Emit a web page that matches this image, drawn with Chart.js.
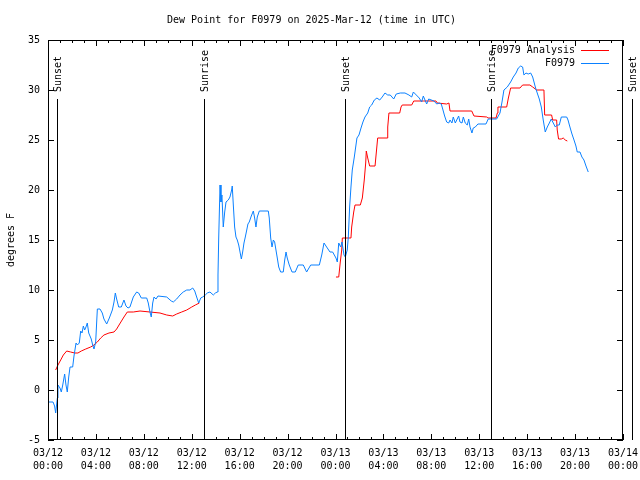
<!DOCTYPE html>
<html>
<head>
<meta charset="utf-8">
<script src="https://cdn.jsdelivr.net/npm/chart.js@4/dist/chart.umd.min.js"></script>
<style>
  html, body { margin: 0; padding: 0; background: #fff; }
  #wrap { width: 640px; height: 480px; }
</style>
</head>
<body>
<div id="wrap"><canvas id="dew_chart"></canvas></div>
<script>
// hours since 03/12 00:00 UTC and dew point (F)
var obsHours = [0.08,0.42,0.55,0.64,0.78,0.83,1.0,1.11,1.23,1.39,1.5,1.61,1.73,1.84,2.06,2.17,2.34,2.45,2.61,2.73,
  2.84,2.95,3.06,3.17,3.28,3.40,3.61,3.73,3.84,3.98,4.12,4.34,4.53,4.67,4.90,5.12,5.37,5.51,5.62,5.73,
  5.90,6.12,6.34,6.51,6.68,6.84,7.12,7.40,7.57,7.79,8.24,8.37,8.51,8.62,8.74,8.85,9.02,9.18,9.91,10.29,
  10.46,10.74,11.02,11.29,11.58,11.85,12.08,12.25,12.41,12.58,12.75,12.91,13.13,13.30,13.52,13.80,13.97,14.13,14.19,14.25,
  14.36,14.44,14.52,14.63,14.75,14.86,15.05,15.19,15.33,15.38,15.47,15.58,15.69,15.80,15.92,16.03,16.14,16.25,16.36,16.47,
  16.59,16.69,16.80,16.97,17.14,17.25,17.36,17.47,17.64,18.39,18.47,18.59,18.70,18.81,18.92,19.03,19.14,19.26,19.42,19.64,
  19.76,19.87,19.97,20.14,20.37,20.64,20.89,21.31,21.59,21.93,22.65,22.85,23.04,23.26,23.54,23.76,24.04,24.15,24.27,24.43,
  24.54,24.71,24.82,24.98,25.07,25.18,25.29,25.40,25.57,25.79,25.96,26.13,26.29,26.46,26.69,26.85,27.02,27.24,27.46,27.69,
  27.90,28.13,28.36,28.57,28.86,29.07,29.41,29.80,30.13,30.36,30.50,30.99,31.19,31.33,31.61,31.78,32.22,32.45,32.66,32.83,
  32.95,33.11,33.28,33.45,33.56,33.72,33.83,34.00,34.12,34.28,34.39,34.56,34.67,34.83,35.00,35.12,35.23,35.39,35.50,35.67,
  35.89,36.56,36.75,37.45,37.73,37.90,38.06,38.34,38.62,38.84,39.07,39.26,39.46,39.62,39.73,39.90,40.09,40.29,40.46,40.68,
  40.84,41.01,41.18,41.34,41.51,41.68,41.85,42.01,42.18,42.35,42.51,42.68,42.85,43.30,43.41,43.57,43.74,43.91,44.07,44.18,
  44.41,44.57,44.74,44.91,45.10];
var obsDew = [-1.2,-1.2,-1.6,-2.3,-0.8,0.5,0.2,-0.2,0.5,1.6,0.5,-0.2,1.3,2.3,2.3,3.4,4.7,4.5,4.7,5.9,
  5.7,6.4,6.0,6.3,6.7,5.7,5.1,4.5,4.1,4.8,8.1,8.1,7.7,7.1,6.6,7.2,8.0,8.8,9.7,9.1,
  8.3,8.3,9.0,8.4,8.2,8.3,9.3,9.8,9.7,9.2,9.2,8.7,7.8,7.3,8.7,9.3,9.1,9.4,9.3,8.9,
  8.8,9.1,9.5,9.8,10.0,10.0,10.2,9.9,9.3,8.7,9.2,9.3,9.5,9.7,9.8,9.5,9.7,9.8,11.5,15.2,
  20.5,18.8,19.5,16.3,17.8,18.8,19.0,19.3,20.0,20.4,18.5,16.3,15.3,15.0,14.5,13.8,13.1,13.8,14.7,15.3,
  16.0,16.6,16.8,17.4,17.9,17.2,16.3,17.3,17.9,17.9,17.2,15.2,14.3,15.0,14.8,14.0,13.2,12.3,11.8,11.8,
  13.0,13.8,13.2,12.5,11.8,11.8,12.5,12.5,11.8,12.5,12.5,13.5,14.7,14.3,13.8,13.8,13.2,12.8,14.7,14.3,
  14.8,13.5,13.3,14.0,15.3,18.3,20.3,22.0,23.3,25.2,25.5,26.2,26.8,27.3,27.7,28.3,28.5,29.0,29.2,29.0,
  29.3,29.7,29.5,29.5,29.1,29.6,29.7,29.7,29.5,29.3,29.8,29.2,28.8,29.4,28.6,29.1,28.9,28.6,28.7,28.6,
  28.1,27.4,26.8,26.7,27.0,26.7,27.3,26.7,27.0,27.4,26.8,26.7,27.3,26.7,26.5,27.1,26.3,25.7,26.2,26.3,
  26.6,26.6,27.1,27.1,27.7,28.8,30.0,30.3,30.8,31.3,31.7,32.2,32.4,32.3,31.5,31.7,31.6,31.7,31.3,30.3,
  29.7,29.1,28.3,27.0,25.8,26.3,26.7,27.1,26.7,26.3,26.5,26.5,27.3,27.3,27.0,26.3,25.6,25.0,24.4,23.8,
  23.8,23.3,23.0,22.4,21.8];

// analysis series, null = no analysis available
var anaHours = [0.64,0.83,1.06,1.28,1.56,1.89,2.23,2.50,2.78,3.15,3.56,3.84,4.12,4.40,4.67,5.09,5.51,5.73,5.93,6.34,
  6.62,7.12,7.68,8.51,9.35,9.91,10.41,10.74,11.16,11.58,12.00,12.30,12.63,13.0,
  24.04,24.27,24.40,24.52,24.57,25.29,25.35,25.52,25.63,26.07,26.24,26.40,26.52,26.57,26.69,26.85,27.30,27.41,27.52,28.30,
  28.36,28.46,29.36,29.47,29.57,30.36,30.53,31.33,32.39,32.50,33.28,33.47,33.56,35.37,35.56,36.62,36.73,37.40,37.51,37.56,
  38.29,38.43,38.62,39.40,39.62,40.23,40.46,40.79,41.40,41.46,42.04,42.13,42.46,42.51,42.62,42.85,43.01,43.18,43.35];
var anaDew = [2.0,2.5,3.0,3.5,3.9,3.8,3.7,3.7,3.9,4.1,4.3,4.5,4.8,5.2,5.5,5.7,5.8,6.1,6.5,7.3,
  7.8,7.8,7.9,7.8,7.7,7.5,7.4,7.6,7.8,8.0,8.3,8.5,8.7,null,
  11.3,11.3,12.8,14.0,15.2,15.2,16.3,17.8,18.5,18.5,19.2,21.0,22.7,23.9,23.2,22.4,22.4,23.8,25.2,25.2,
  26.3,27.7,27.7,28.3,28.5,28.5,28.9,28.9,28.9,28.7,28.6,28.7,27.9,27.9,27.4,27.3,27.2,27.2,27.7,28.3,
  28.3,29.2,30.2,30.2,30.5,30.5,30.3,30.0,30.0,27.5,27.5,27.0,27.0,26.0,25.1,25.1,25.2,25.0,24.9];

var sunHours = [0.75, 13.0, 24.8, 37.0, 48.75];
var sunLabels = ['Sunset', 'Sunrise', 'Sunset', 'Sunrise', 'Sunset'];

var mono = "'DejaVu Sans Mono', monospace";

function pairs(hours, vals) {
  return hours.map(function (h, i) { return { x: h, y: vals[i] }; });
}

function tick_label(h) {
  var day = 12 + Math.floor(h / 24);
  var hh = h % 24;
  return ['03/' + day, (hh < 10 ? '0' : '') + hh + ':00'];
}

// gnuplot-ish frame, inward ticks, sun lines and key
const decor = {
  id: 'decor',
  afterDraw(chart) {
    const c = chart.ctx, a = chart.chartArea, xs = chart.scales.x, ys = chart.scales.y;
    c.save();
    c.strokeStyle = '#000';
    c.lineWidth = 1;
    c.strokeRect(a.left + 0.5, a.top + 0.5, a.right - a.left - 1, a.bottom - a.top - 1);
    c.beginPath();
    for (var h = 0; h <= 48; h++) {
      var px = Math.round(xs.getPixelForValue(h)) + 0.5;
      var len = (h % 4 === 0) ? 6 : 3;
      c.moveTo(px, a.bottom); c.lineTo(px, a.bottom - len);
      c.moveTo(px, a.top); c.lineTo(px, a.top + len);
    }
    for (var v = -5; v <= 35; v += 5) {
      var py = Math.round(ys.getPixelForValue(v)) + 0.5;
      c.moveTo(a.left, py); c.lineTo(a.left + 6, py);
      c.moveTo(a.right, py); c.lineTo(a.right - 6, py);
    }
    c.stroke();

    c.font = '10px ' + mono;
    c.fillStyle = '#000';
    sunHours.forEach(function (h, i) {
      var px = Math.round(xs.getPixelForValue(h)) + 0.5;
      c.beginPath();
      c.moveTo(px, ys.getPixelForValue(29.1));
      c.lineTo(px, a.bottom);
      c.stroke();
      c.save();
      c.translate(px + 1, ys.getPixelForValue(29.8));
      c.rotate(-Math.PI / 2);
      c.textAlign = 'left';
      c.textBaseline = 'middle';
      c.fillText(sunLabels[i], 0, 0);
      c.restore();
    });

    // key, top right
    chart.data.datasets.forEach(function (ds, i) {
      var ky = a.top + 10 + i * 13 + 0.5;
      c.textAlign = 'right';
      c.textBaseline = 'middle';
      c.fillText(ds.label, a.right - 48, ky);
      c.strokeStyle = ds.borderColor;
      c.beginPath();
      c.moveTo(a.right - 42, ky);
      c.lineTo(a.right - 14, ky);
      c.stroke();
    });
    c.restore();
  }
};

new Chart(document.getElementById('dew_chart'), {
  type: 'line',
  data: {
    datasets: [{
      label: 'F0979 Analysis',
      data: pairs(anaHours, anaDew),
      borderColor: '#ff0000',
      borderWidth: 1,
      pointRadius: 0,
      spanGaps: false,
      order: 2
    }, {
      label: 'F0979',
      data: pairs(obsHours, obsDew),
      borderColor: '#0a80ff',
      borderWidth: 1,
      pointRadius: 0,
      order: 1
    }]
  },
  options: {
    responsive: true,
    maintainAspectRatio: false,
    animation: false,
    layout: { padding: { left: 0, right: 17, top: 0, bottom: 0 } },
    plugins: {
      legend: { display: false },
      tooltip: { enabled: false },
      title: {
        display: true,
        text: 'Dew Point for F0979 on 2025-Mar-12 (time in UTC)',
        color: '#000',
        font: { family: mono, size: 10, weight: 'normal' },
        padding: { top: 14, bottom: 14 }
      }
    },
    scales: {
      x: {
        type: 'linear',
        min: 0, max: 48,
        afterFit: function (s) { s.height = 40; s.paddingLeft = 0; s.paddingRight = 0; },
        grid: { display: false, drawTicks: false },
        border: { display: false },
        ticks: {
          stepSize: 4,
          padding: 7,
          maxRotation: 0,
          autoSkip: false,
          color: '#000',
          font: { family: mono, size: 10, lineHeight: 1.3 },
          callback: function (v) { return tick_label(v); }
        }
      },
      y: {
        min: -5, max: 35,
        afterFit: function (s) { s.width = 48; s.paddingTop = 0; s.paddingBottom = 0; },
        grid: { display: false, drawTicks: false },
        border: { display: false },
        title: {
          display: true,
          text: 'degrees F',
          color: '#000',
          font: { family: mono, size: 10 },
          padding: { top: 5, bottom: 0 }
        },
        ticks: {
          stepSize: 5,
          padding: 8,
          color: '#000',
          font: { family: mono, size: 10 }
        }
      }
    }
  },
  plugins: [decor]
});
</script>
</body>
</html>
